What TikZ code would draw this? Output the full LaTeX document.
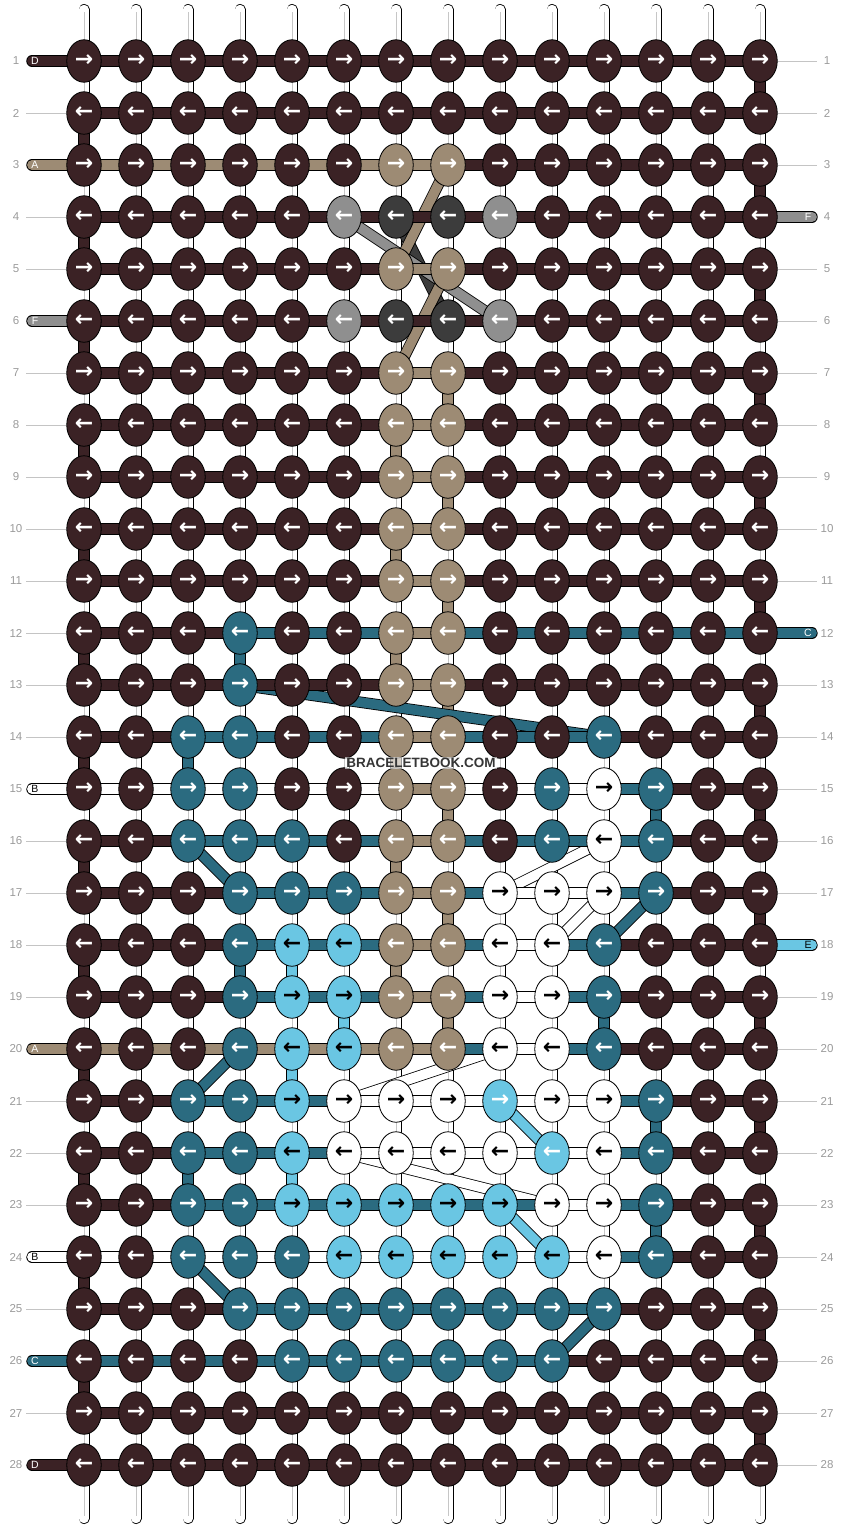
\documentclass[tikz,border=0pt]{standalone}
\usepackage{fontspec}
\setmainfont{Liberation Sans}
\newfontfamily\arrowfont{DejaVu Sans}
\usetikzlibrary{shapes.geometric}
\definecolor{kD}{HTML}{3B2225}
\definecolor{kA}{HTML}{9D8B74}
\definecolor{kF}{HTML}{8F8F8F}
\definecolor{kG}{HTML}{3C3C3C}
\definecolor{kC}{HTML}{2B6B80}
\definecolor{kE}{HTML}{6AC6E3}
\definecolor{ke}{HTML}{6AC6E3}
\definecolor{kB}{HTML}{FFFFFF}
\colorlet{tD}{white}
\colorlet{tA}{white}
\colorlet{tF}{white}
\colorlet{tG}{white}
\colorlet{tC}{white}
\colorlet{te}{white}
\colorlet{tE}{black}
\colorlet{tB}{black}
\definecolor{numgray}{HTML}{9A9A9A}
\definecolor{tickgray}{HTML}{C4C4C4}
\definecolor{brandgray}{HTML}{363636}
\pgfdeclarelayer{warp}
\pgfdeclarelayer{drop}
\pgfdeclarelayer{cross}
\pgfdeclarelayer{weft}
\pgfsetlayers{warp,drop,cross,weft,main}
\tikzset{
  knot/.style={ellipse, draw=black, line width=0.8pt, fill=k#1, text=t#1,
    minimum width=34.5pt, minimum height=42.5pt, inner sep=0pt,
    font=\arrowfont\bfseries\fontsize{22}{22}\selectfont},
  thread/.style={draw=k#1, line width=9.8pt, preaction={draw=black, line width=11.4pt}},
  stubline/.style={draw=k#1, line width=9.8pt, line cap=round,
    preaction={draw=black, line width=11.4pt, line cap=round}},
  endtag/.style={text=t#1, inner sep=0pt, font=\fontsize{10.5}{11}\selectfont},
  warpstring/.style={draw=white, line width=9.4pt, line cap=round,
    preaction={draw=black, line width=11pt, line cap=round}},
  warpmid/.style={draw=gray!45, line width=0.7pt, shorten <=3pt, shorten >=3pt},
  tickline/.style={draw=tickgray, line width=0.7pt},
  rownum/.style={text=numgray, inner sep=0pt, font=\fontsize{11.5}{12}\selectfont},
  brandtag/.style={text=brandgray, fill=white, fill opacity=0.6, text opacity=1, inner sep=1.5pt,
    font=\bfseries\fontsize{13.5}{14}\selectfont}
}
\begin{document}
\begin{tikzpicture}[x=1pt,y=-1pt]
  \useasboundingbox (0,0) rectangle (844,1528);

  \foreach \r/\kn in {
      1/{D,D,D,D,D,D,D,D,D,D,D,D,D,D},
      2/{D,D,D,D,D,D,D,D,D,D,D,D,D,D},
      3/{D,D,D,D,D,D,A,A,D,D,D,D,D,D},
      4/{D,D,D,D,D,F,G,G,F,D,D,D,D,D},
      5/{D,D,D,D,D,D,A,A,D,D,D,D,D,D},
      6/{D,D,D,D,D,F,G,G,F,D,D,D,D,D},
      7/{D,D,D,D,D,D,A,A,D,D,D,D,D,D},
      8/{D,D,D,D,D,D,A,A,D,D,D,D,D,D},
      9/{D,D,D,D,D,D,A,A,D,D,D,D,D,D},
      10/{D,D,D,D,D,D,A,A,D,D,D,D,D,D},
      11/{D,D,D,D,D,D,A,A,D,D,D,D,D,D},
      12/{D,D,D,C,D,D,A,A,D,D,D,D,D,D},
      13/{D,D,D,C,D,D,A,A,D,D,D,D,D,D},
      14/{D,D,C,C,D,D,A,A,D,D,C,D,D,D},
      15/{D,D,C,C,D,D,A,A,D,C,B,C,D,D},
      16/{D,D,C,C,C,D,A,A,D,C,B,C,D,D},
      17/{D,D,D,C,C,C,A,A,B,B,B,C,D,D},
      18/{D,D,D,C,E,E,A,A,B,B,C,D,D,D},
      19/{D,D,D,C,E,E,A,A,B,B,C,D,D,D},
      20/{D,D,D,C,E,E,A,A,B,B,C,D,D,D},
      21/{D,D,C,C,E,B,B,B,e,B,B,C,D,D},
      22/{D,D,C,C,E,B,B,B,B,e,B,C,D,D},
      23/{D,D,C,C,E,E,E,E,E,B,B,C,D,D},
      24/{D,D,C,C,C,E,E,E,E,E,B,C,D,D},
      25/{D,D,D,C,C,C,C,C,C,C,C,D,D,D},
      26/{D,D,D,D,C,C,C,C,C,C,D,D,D,D},
      27/{D,D,D,D,D,D,D,D,D,D,D,D,D,D},
      28/{D,D,D,D,D,D,D,D,D,D,D,D,D,D}}{
    \ifodd\r\relax \def\arr{→}\else \def\arr{←}\fi
    \foreach \k [count=\c] in \kn
      \node[knot=\k] (k-\c-\r) at (32+52*\c,9+52*\r) {\arr};
  }

  \foreach \r in {1,...,28}{
    \node[rownum] (nl-\r) at (16,9+52*\r) {\r};
    \node[rownum] (nr-\r) at (827,9+52*\r) {\r};
    \coordinate (tl-\r) at (26,9+52*\r);
    \coordinate (tr-\r) at (817,9+52*\r);
  }
  \foreach \c in {1,...,14}{
    \coordinate (wt-\c) at (32+52*\c,9.5);
    \coordinate (wb-\c) at (32+52*\c,1518.5);
  }

  \begin{pgfonlayer}{warp}
    \foreach \r in {1,...,28}{
      \draw[tickline] (tl-\r) -- (k-1-\r.west);
      \draw[tickline] (k-14-\r.east) -- (tr-\r);
    }
    \foreach \c in {1,...,14}{
      \draw[warpstring] (wt-\c) -- (wb-\c);
      \draw[warpmid] (wt-\c) -- (wb-\c);
    }
  \end{pgfonlayer}

  \begin{pgfonlayer}{drop}
    \foreach \r [evaluate=\r as \rr using int(\r+1)] in {2,4,...,26}
      \draw[thread=D] (k-1-\r.center) -- (k-1-\rr.center);
    \foreach \r [evaluate=\r as \rr using int(\r+1)] in {1,3,...,27}
      \draw[thread=D] (k-14-\r.center) -- (k-14-\rr.center);
    \foreach \r [evaluate=\r as \rr using int(\r+1)] in {7,9,...,19}
      \draw[thread=A] (k-8-\r.center) -- (k-8-\rr.center);
    \foreach \r [evaluate=\r as \rr using int(\r+1)] in {8,10,...,18}
      \draw[thread=A] (k-7-\r.center) -- (k-7-\rr.center);
    \foreach \c/\r/\k [evaluate=\r as \rr using int(\r+1)] in
        {4/12/C, 3/14/C, 12/15/C, 4/18/C, 11/19/C, 12/21/C, 3/22/C, 12/23/C,
         5/18/E, 6/19/E, 5/20/E, 5/22/E}
      \draw[thread=\k] (k-\c-\r.center) -- (k-\c-\rr.center);
  \end{pgfonlayer}

  \begin{pgfonlayer}{cross}
    \foreach \a/\p/\b/\q/\k in {
        7/4/8/6/G, 6/4/9/6/F, 8/3/7/5/A, 8/5/7/7/A,
        4/13/11/14/C, 3/16/4/17/C, 12/17/11/18/C, 4/20/3/21/C,
        3/24/4/25/C, 11/25/10/26/C, 9/21/10/22/E, 9/23/10/24/E,
        11/16/9/17/B, 11/17/10/18/B, 9/20/6/21/B, 6/22/10/23/B}
      \draw[thread=\k] (k-\a-\p.center) -- (k-\b-\q.center);
  \end{pgfonlayer}

  \begin{pgfonlayer}{weft}
    \foreach \r/\hz in {
        1/{D,D,D,D,D,D,D,D,D,D,D,D,D},
        2/{D,D,D,D,D,D,D,D,D,D,D,D,D},
        3/{A,A,A,A,A,A,A,D,D,D,D,D,D},
        4/{D,D,D,D,D,D,D,D,D,D,D,D,D},
        5/{D,D,D,D,D,D,A,D,D,D,D,D,D},
        6/{D,D,D,D,D,D,D,D,D,D,D,D,D},
        7/{D,D,D,D,D,D,A,D,D,D,D,D,D},
        8/{D,D,D,D,D,D,A,D,D,D,D,D,D},
        9/{D,D,D,D,D,D,A,D,D,D,D,D,D},
        10/{D,D,D,D,D,D,A,D,D,D,D,D,D},
        11/{D,D,D,D,D,D,A,D,D,D,D,D,D},
        12/{D,D,D,C,C,C,A,C,C,C,C,C,C},
        13/{D,D,D,D,D,D,A,D,D,D,D,D,D},
        14/{D,D,C,C,C,C,A,C,C,C,D,D,D},
        15/{B,B,B,B,B,B,A,B,B,B,C,D,D},
        16/{D,D,C,C,C,C,A,C,C,C,C,D,D},
        17/{D,D,D,C,C,C,A,C,B,B,C,D,D},
        18/{D,D,D,C,C,C,A,C,B,C,D,D,D},
        19/{D,D,D,C,C,C,A,C,B,C,D,D,D},
        20/{A,A,A,A,A,A,A,C,B,C,D,D,D},
        21/{D,D,C,C,C,B,B,B,B,B,C,D,D},
        22/{D,D,C,C,C,B,B,B,B,B,C,D,D},
        23/{D,D,C,C,C,C,C,C,C,B,C,D,D},
        24/{B,B,B,B,B,B,B,B,B,B,C,D,D},
        25/{D,D,D,C,C,C,C,C,C,C,D,D,D},
        26/{C,C,C,C,C,C,C,C,C,D,D,D,D},
        27/{D,D,D,D,D,D,D,D,D,D,D,D,D},
        28/{D,D,D,D,D,D,D,D,D,D,D,D,D}}{
      \foreach \k [count=\c, evaluate=\c as \cc using int(\c+1)] in \hz
        \draw[thread=\k] (k-\c-\r.center) -- (k-\cc-\r.center);
    }
    \foreach \r/\k in {1/D, 3/A, 6/F, 15/B, 20/A, 24/B, 26/C, 28/D}{
      \coordinate (ls-\r) at (32,9+52*\r);
      \draw[stubline=\k] (ls-\r) -- (k-1-\r.center);
    }
    \foreach \r/\k in {4/F, 12/C, 18/E}{
      \coordinate (rs-\r) at (812,9+52*\r);
      \draw[stubline=\k] (k-14-\r.center) -- (rs-\r);
    }
  \end{pgfonlayer}

  \foreach \r/\k in {1/D, 3/A, 6/F, 15/B, 20/A, 24/B, 26/C, 28/D}
    \node[endtag=\k] (le-\r) at (35,9+52*\r) {\k};
  \foreach \r/\k in {4/F, 12/C, 18/E}
    \node[endtag=\k] (re-\r) at (808,9+52*\r) {\k};

  \node[brandtag] (brand) at (421,763) {BRACELETBOOK.COM};
\end{tikzpicture}
\end{document}
